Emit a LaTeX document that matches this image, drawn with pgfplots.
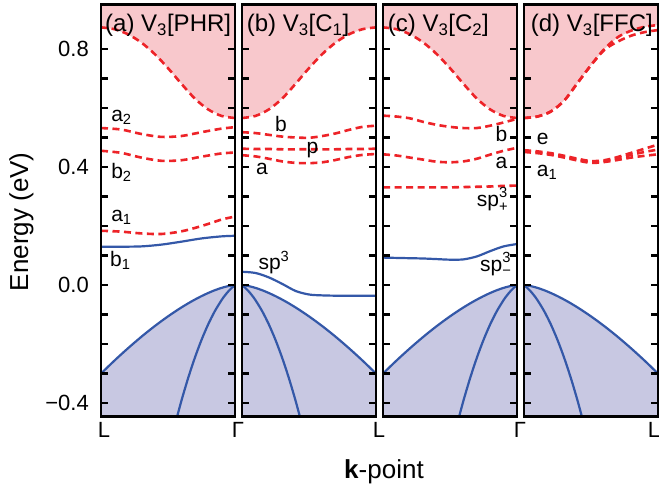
\documentclass[border=0pt]{standalone}
\usepackage{fontspec}
\setmainfont{Liberation Sans}
\usepackage{pgfplots}
\pgfplotsset{compat=1.18}
\usepackage{pgfplotstable}

\definecolor{cbfill}{RGB}{248,200,204}
\definecolor{vbfill}{RGB}{200,200,226}
\definecolor{defred}{RGB}{237,35,40}
\definecolor{bandblue}{RGB}{52,88,168}

\newcommand\spsub[1]{sp\rlap{\raisebox{0.1em}{\textsuperscript{3}}}\raisebox{-0.05em}{\textsubscript{#1}}}

% Bulk bands against the distance d from Gamma (0) to L (1)
\pgfplotstableread{
d e
0.00 0.0000
0.05 -0.0034
0.10 -0.0095
0.15 -0.0174
0.20 -0.0268
0.25 -0.0375
0.30 -0.0493
0.35 -0.0621
0.40 -0.0759
0.45 -0.0906
0.50 -0.1061
0.55 -0.1224
0.60 -0.1394
0.65 -0.1572
0.70 -0.1757
0.75 -0.1949
0.80 -0.2147
0.85 -0.2351
0.90 -0.2561
0.95 -0.2778
1.00 -0.3000
}\vbA
\pgfplotstableread{
d e
0.000 0.0000
0.025 -0.0097
0.050 -0.0214
0.075 -0.0351
0.100 -0.0508
0.150 -0.0880
0.200 -0.1330
0.250 -0.1860
0.300 -0.2468
0.350 -0.3156
0.400 -0.3922
0.450 -0.4766
}\vbB
\pgfplotstableread{
d e
0.0 0.566
0.1 0.573
0.2 0.595
0.3 0.632
0.4 0.682
0.5 0.735
0.6 0.783
0.7 0.822
0.8 0.850
0.9 0.867
1.0 0.873
}\cbulk
\pgfplotstableread{
d e f
0.0 0.566 0.566
0.1 0.571 0.571
0.2 0.588 0.588
0.3 0.625 0.625
0.4 0.685 0.685
0.5 0.745 0.745
0.6 0.797 0.800
0.7 0.825 0.840
0.8 0.845 0.862
0.9 0.857 0.875
1.0 0.864 0.881
}\cbD

% Defect levels, x running left to right in each panel
\pgfplotstableread{
x a2 b2 a1 b1
0.00 0.532 0.455 0.184 0.130
0.15 0.527 0.448 0.181 0.130
0.30 0.512 0.432 0.175 0.131
0.45 0.502 0.421 0.173 0.137
0.60 0.505 0.423 0.182 0.147
0.75 0.518 0.435 0.200 0.158
0.90 0.530 0.446 0.222 0.165
1.00 0.535 0.449 0.232 0.167
}\bandsA
\pgfplotstableread{
x b p a sp
0.0 0.518 0.462 0.440 0.045
0.1 0.515 0.461 0.436 0.041
0.2 0.509 0.461 0.428 0.026
0.3 0.503 0.460 0.419 0.004
0.4 0.500 0.460 0.414 -0.020
0.5 0.499 0.460 0.413 -0.032
0.6 0.505 0.460 0.416 -0.035
0.7 0.514 0.460 0.424 -0.036
0.8 0.526 0.461 0.434 -0.036
0.9 0.536 0.461 0.441 -0.036
1.0 0.540 0.462 0.444 -0.036
}\bandsB
\pgfplotstableread{
x b a spp spm
0.0 0.574 0.443 0.331 0.093
0.1 0.571 0.439 0.331 0.092
0.2 0.565 0.432 0.331 0.091
0.3 0.553 0.425 0.331 0.090
0.4 0.543 0.418 0.331 0.088
0.5 0.536 0.416 0.331 0.086
0.6 0.532 0.419 0.332 0.087
0.7 0.532 0.428 0.333 0.097
0.8 0.540 0.442 0.334 0.115
0.9 0.551 0.455 0.336 0.131
1.0 0.563 0.465 0.337 0.139
}\bandsC
\pgfplotstableread{
x e1 e2 e3
0.0 0.457 0.454 0.451
0.1 0.453 0.450 0.447
0.2 0.447 0.444 0.441
0.3 0.438 0.435 0.432
0.4 0.428 0.425 0.422
0.5 0.420 0.417 0.414
0.6 0.423 0.420 0.417
0.7 0.434 0.430 0.424
0.8 0.448 0.441 0.432
0.9 0.462 0.451 0.438
1.0 0.476 0.459 0.443
}\bandsD

\pgfplotsset{
  panel/.style={
    scale only axis, width=134pt, height=412pt, anchor=south west,
    xmin=0, xmax=1, ymin=-0.446, ymax=0.95,
    axis on top,
    axis line style={line width=2.4pt, black},
    ytick={-0.4,0,0.4,0.8},
    minor ytick={-0.3,-0.2,-0.1,0.1,0.2,0.3,0.5,0.6,0.7},
    yticklabels={},
    ytick pos=both,
    tick align=inside,
    major tick length=7pt, minor tick length=7pt,
    tick style={line width=2.4pt, black},
    minor tick style={line width=2.4pt, black},
    xtick style={draw=none},
    ticklabel style={font=\fontsize{22}{26}\selectfont},
    xticklabel style={inner sep=0pt, yshift=-5pt, xshift=3pt},
  },
}
\tikzset{
  cond/.style={fill=cbfill, draw=none},
  val/.style={fill=vbfill, draw=none},
  dashred/.style={defred, line width=2.6pt, dash pattern=on 7pt off 4.5pt, smooth},
  solidblue/.style={bandblue, line width=2.2pt, smooth},
  lab/.style={inner sep=0pt, anchor=base west},
  labr/.style={inner sep=0pt, anchor=base east},
  ttl/.style={inner sep=0pt, anchor=base west, font=\fontsize{24}{28}\selectfont},
}

\begin{document}
\begin{tikzpicture}[font=\fontsize{21}{25}\selectfont]
\useasboundingbox (0,0) rectangle (659pt,489pt);

% (a) L -> Gamma
\begin{axis}[panel, at={(101pt,72.3pt)},
  xtick={0,1}, xticklabels={L,Γ},
  yticklabels={−0.4,0.0,0.4,0.8},
  yticklabel style={inner sep=0pt, xshift=-12pt}]
  \addplot[cond] table[x expr=1-\thisrow{d}, y=e]{\cbulk} -- (axis cs:0,1) -- (axis cs:1,1) -- cycle;
  \addplot[val] table[x expr=1-\thisrow{d}, y=e]{\vbA} -- (axis cs:0,-1) -- (axis cs:1,-1) -- cycle;
  \addplot[dashred] table[x expr=1-\thisrow{d}, y=e]{\cbulk};
  \addplot[dashred] table[x=x, y=a2]{\bandsA};
  \addplot[dashred] table[x=x, y=b2]{\bandsA};
  \addplot[dashred] table[x=x, y=a1]{\bandsA};
  \addplot[solidblue] table[x=x, y=b1]{\bandsA};
  \addplot[solidblue] table[x expr=1-\thisrow{d}, y=e]{\vbA};
  \addplot[solidblue] table[x expr=1-\thisrow{d}, y=e]{\vbB};
  \node[ttl] at (axis cs:0.03,0.859) {(a) V\textsubscript{3}[PHR]};
  \node[lab] at (axis cs:0.075,0.554) {a\textsubscript{2}};
  \node[lab] at (axis cs:0.075,0.362) {b\textsubscript{2}};
  \node[lab] at (axis cs:0.075,0.215) {a\textsubscript{1}};
  \node[lab] at (axis cs:0.067,0.062) {b\textsubscript{1}};
\end{axis}

% (b) Gamma -> L
\begin{axis}[panel, at={(242pt,72.3pt)}, xtick={1}, xticklabels={L}]
  \addplot[cond] table[x=d, y=e]{\cbulk} -- (axis cs:1,1) -- (axis cs:0,1) -- cycle;
  \addplot[val] table[x=d, y=e]{\vbA} -- (axis cs:1,-1) -- (axis cs:0,-1) -- cycle;
  \addplot[dashred] table[x=d, y=e]{\cbulk};
  \addplot[dashred] table[x=x, y=b]{\bandsB};
  \addplot[dashred] table[x=x, y=p]{\bandsB};
  \addplot[dashred] table[x=x, y=a]{\bandsB};
  \addplot[solidblue] table[x=x, y=sp]{\bandsB};
  \addplot[solidblue] table[x=d, y=e]{\vbA};
  \addplot[solidblue] table[x=d, y=e]{\vbB};
  \node[ttl] at (axis cs:0.035,0.859) {(b) V\textsubscript{3}[C\textsubscript{1}]};
  \node[lab] at (axis cs:0.246,0.520) {b};
  \node[lab] at (axis cs:0.480,0.446) {p};
  \node[lab] at (axis cs:0.104,0.373) {a};
  \node[lab] at (axis cs:0.122,0.053) {sp\textsuperscript{3}};
\end{axis}

% (c) L -> Gamma
\begin{axis}[panel, at={(383pt,72.3pt)}, xtick={1}, xticklabels={Γ}]
  \addplot[cond] table[x expr=1-\thisrow{d}, y=e]{\cbulk} -- (axis cs:0,1) -- (axis cs:1,1) -- cycle;
  \addplot[val] table[x expr=1-\thisrow{d}, y=e]{\vbA} -- (axis cs:0,-1) -- (axis cs:1,-1) -- cycle;
  \addplot[dashred] table[x expr=1-\thisrow{d}, y=e]{\cbulk};
  \addplot[dashred] table[x=x, y=b]{\bandsC};
  \addplot[dashred] table[x=x, y=a]{\bandsC};
  \addplot[dashred] table[x=x, y=spp]{\bandsC};
  \addplot[solidblue] table[x=x, y=spm]{\bandsC};
  \addplot[solidblue] table[x expr=1-\thisrow{d}, y=e]{\vbA};
  \addplot[solidblue] table[x expr=1-\thisrow{d}, y=e]{\vbB};
  \node[ttl] at (axis cs:0.035,0.859) {(c) V\textsubscript{3}[C\textsubscript{2}]};
  \node[labr] at (axis cs:0.929,0.486) {b};
  \node[labr] at (axis cs:0.929,0.395) {a};
  \node[labr] at (axis cs:0.935,0.265) {\spsub{+}};
  \node[labr] at (axis cs:0.960,0.045) {\spsub{−}};
\end{axis}

% (d) Gamma -> L
\begin{axis}[panel, at={(524pt,72.3pt)}, xtick={1}, xticklabels={L},
  xticklabel style={xshift=-7pt}]
  \addplot[cond] table[x=d, y=f]{\cbD} -- (axis cs:1,1) -- (axis cs:0,1) -- cycle;
  \addplot[val] table[x=d, y=e]{\vbA} -- (axis cs:1,-1) -- (axis cs:0,-1) -- cycle;
  \addplot[dashred] table[x=d, y=e]{\cbD};
  \addplot[dashred] table[x=d, y=f]{\cbD};
  \addplot[dashred] table[x=x, y=e1]{\bandsD};
  \addplot[dashred] table[x=x, y=e2]{\bandsD};
  \addplot[dashred] table[x=x, y=e3]{\bandsD};
  \addplot[solidblue] table[x=d, y=e]{\vbA};
  \addplot[solidblue] table[x=d, y=e]{\vbB};
  \node[ttl] at (axis cs:0.05,0.859) {(d) V\textsubscript{3}[FFC]};
  \node[lab] at (axis cs:0.095,0.475) {e};
  \node[lab] at (axis cs:0.095,0.367) {a\textsubscript{1}};
\end{axis}

\node[rotate=90, font=\fontsize{26}{30}\selectfont] at (21.5pt,267.3pt) {Energy (eV)};
\node[anchor=base, font=\fontsize{26}{30}\selectfont] at (384pt,10.7pt) {\textbf{k}-point};
\end{tikzpicture}
\end{document}
